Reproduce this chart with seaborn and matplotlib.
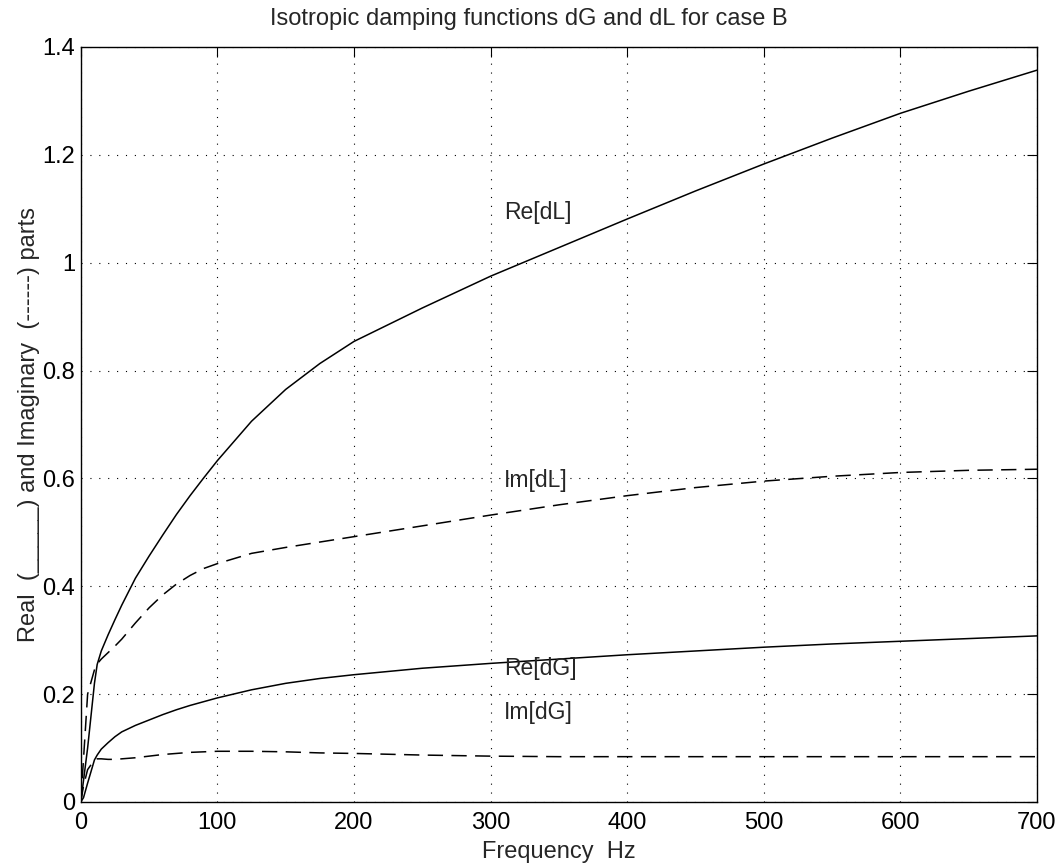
import numpy as np
import pandas as pd
import seaborn as sns
import matplotlib.pyplot as plt

# values
freq = [0, 2, 5, 10, 12, 15, 20, 25, 30, 40, 50, 60, 70, 80, 90, 100, 125,
        150, 175, 200, 250, 300, 350, 400, 450, 500, 550, 600, 650, 700]
re_dL = [0, 0.04, 0.1, 0.22, 0.255, 0.28, 0.31, 0.338, 0.365, 0.415, 0.456,
         0.495, 0.533, 0.568, 0.601, 0.633, 0.706, 0.765, 0.813, 0.854, 0.916,
         0.975, 1.028, 1.081, 1.133, 1.183, 1.231, 1.277, 1.318, 1.357]
im_dL = [0, 0.08, 0.2, 0.245, 0.256, 0.265, 0.277, 0.289, 0.302, 0.332, 0.36,
         0.384, 0.404, 0.42, 0.433, 0.442, 0.461, 0.472, 0.482, 0.492, 0.512,
         0.532, 0.551, 0.568, 0.583, 0.595, 0.604, 0.611, 0.615, 0.617]
re_dG = [0, 0.008, 0.035, 0.078, 0.087, 0.098, 0.11, 0.121, 0.13, 0.142,
         0.152, 0.162, 0.171, 0.179, 0.186, 0.193, 0.208, 0.22, 0.229, 0.236,
         0.248, 0.257, 0.265, 0.273, 0.28, 0.287, 0.293, 0.298, 0.303, 0.308]
im_dG = [0, 0.03, 0.06, 0.078, 0.08, 0.08, 0.079, 0.079, 0.08, 0.082, 0.085,
         0.088, 0.09, 0.092, 0.093, 0.094, 0.094, 0.093, 0.091, 0.09, 0.087,
         0.085, 0.084, 0.084, 0.084, 0.084, 0.084, 0.084, 0.084, 0.084]

names = ["Re[dL]", "Im[dL]", "Re[dG]", "Im[dG]"]
values = [re_dL, im_dL, re_dG, im_dG]
label_x = 310
label_y = [1.094, 0.596, 0.248, 0.165]

df = pd.concat([pd.DataFrame({"f": freq, "v": v, "name": n})
                for n, v in zip(names, values)], ignore_index=True)

sns.set_style("white")
plt.rcParams['font.family'] = ['Liberation Sans', 'DejaVu Sans']

fig = plt.figure(figsize=(10.63, 8.67), dpi=100)
ax = fig.add_axes([0.076, 0.075, 0.8995, 0.8708])

for n, ly in zip(names, label_y):
    d = df[df["name"] == n]
    ls = "-" if n.startswith("Re") else (0, (10, 5.5))
    sns.lineplot(data=d, x="f", y="v", ax=ax, color="black", lw=1.1,
                 linestyle=ls, estimator=None, sort=False)
    ax.text(label_x, ly, n, fontsize=16.5, va="center")

ax.set_xlim(0, 700)
ax.set_ylim(0, 1.4)
ax.set_xticks(np.arange(0, 701, 100))
ax.set_yticks([0, 0.2, 0.4, 0.6, 0.8, 1, 1.2, 1.4])
ax.set_yticklabels(["0", "0.2", "0.4", "0.6", "0.8", "1", "1.2", "1.4"])
ax.grid(True, color="black", linestyle=(0, (1, 7)), lw=0.8)
ax.tick_params(direction="in", top=True, right=True, length=7,
               labelsize=17, colors="black", pad=4)
ax.tick_params(axis="x", pad=7)
for s in ax.spines.values():
    s.set_color("black")
    s.set_linewidth(1.0)

ax.set_xlabel("Frequency  Hz", fontsize=17, labelpad=5)
ax.set_ylabel("Real  (_____) and Imaginary  (------) parts", fontsize=17,
              labelpad=2)
ax.set_title("Isotropic damping functions dG and dL for case B",
             fontsize=17, pad=15.5, x=0.469)

fig.savefig("out.png", dpi=100)
